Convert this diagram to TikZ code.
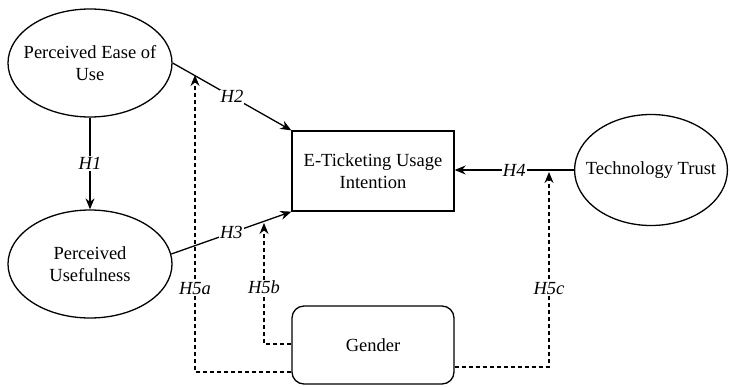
\documentclass[tikz,border=0pt]{standalone}
\usepackage{fontspec}
\setmainfont{Liberation Serif}
\usetikzlibrary{shapes.geometric,arrows.meta,calc}
\begin{document}
\begin{tikzpicture}[x=1pt,y=-1pt,
  every node/.style={font=\fontsize{18.5}{21.5}\selectfont},
  construct/.style={ellipse,draw,line width=1.3pt,inner xsep=-11pt,inner ysep=0pt,align=center},
  outcome/.style={rectangle,draw,line width=1.3pt,inner sep=0pt,align=center,minimum width=162pt,minimum height=80pt},
  moderator/.style={rectangle,rounded corners=12pt,draw,line width=1.3pt,inner sep=0pt,minimum width=162pt,minimum height=78pt},
  path/.style={line width=1.3pt,-{Stealth[length=11pt,width=9pt]}},
  modpath/.style={line width=1.3pt,dash pattern=on 4pt off 3pt,-{Stealth[length=11pt,width=9pt]}},
  hlabel/.style={fill=white,inner sep=1pt,font=\fontsize{18.5}{21.5}\selectfont\itshape}]
\useasboundingbox (0,0) rectangle (730,386);

\node[construct,minimum width=164pt,minimum height=108pt] (peu) at (90,63) {Perceived Ease of\\Use};
\node[construct,minimum width=164pt,minimum height=108pt] (pu) at (90,264) {Perceived\\Usefulness};
\node[outcome] (eti) at (373,171) {E-Ticketing Usage\\Intention};
\node[construct,minimum width=152pt,minimum height=111pt] (tt) at (651,170) {Technology Trust};
\node[moderator] (gen) at (373,345) {Gender};

\coordinate (h5atip) at (195,75);
\coordinate (h5btip) at (264,223);
\coordinate (h5ctip) at (549,172);

% direct effects
\draw[path] (peu.south) -- node[hlabel] {H1} (pu.north);
\draw[path] (peu.east) -- node[hlabel] {H2} (eti.north west);
\draw[path] (pu.7) -- node[hlabel] {H3} (eti.south west);
\draw[path] (tt.west) -- node[hlabel] {H4} (tt.west -| eti.east);

% moderating effects of gender
\draw[modpath] ($(gen.west)+(0,27)$) -| node[hlabel,pos=0.64] {H5a} (h5atip);
\draw[modpath] ($(gen.west)+(0,-1)$) -| node[hlabel,pos=0.735] {H5b} (h5btip);
\draw[modpath] ($(gen.east)+(0,22)$) -| node[hlabel,pos=0.70] {H5c} (h5ctip);
\end{tikzpicture}
\end{document}
